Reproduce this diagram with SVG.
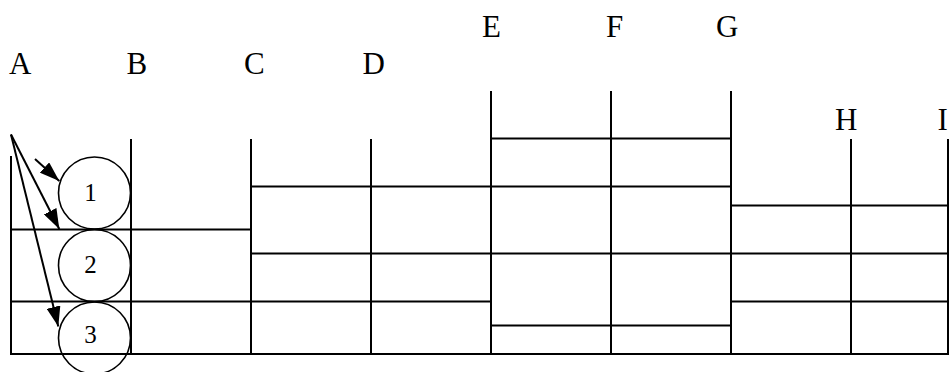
<svg xmlns="http://www.w3.org/2000/svg" width="950" height="372" viewBox="0 0 950 372">
<style>
.ln{stroke:#000;stroke-width:2;fill:none}
.ci{stroke:#000;stroke-width:1.6;fill:none}
.ar{stroke:#000;stroke-width:2;fill:none;marker-end:url(#ah)}
</style>
<defs>
<marker id="ah" viewBox="0 0 20 14" refX="20" refY="7" markerWidth="20" markerHeight="14" markerUnits="userSpaceOnUse" orient="auto">
<path d="M0,0 L20,7 L0,14 Z" fill="#000"/>
</marker>
</defs>
<rect width="950" height="372" fill="#fff"/>
<g id="grid">
<line class="ln" x1="11" y1="156" x2="11" y2="354"/>
<line class="ln" x1="131" y1="139" x2="131" y2="354"/>
<line class="ln" x1="251" y1="139" x2="251" y2="354"/>
<line class="ln" x1="371" y1="139" x2="371" y2="354"/>
<line class="ln" x1="491" y1="91" x2="491" y2="354"/>
<line class="ln" x1="611" y1="91" x2="611" y2="354"/>
<line class="ln" x1="731" y1="91" x2="731" y2="354"/>
<line class="ln" x1="851" y1="139" x2="851" y2="354"/>
<line class="ln" x1="948" y1="139" x2="948" y2="354"/>
<line class="ln" x1="10" y1="354" x2="949" y2="354"/>
<line class="ln" x1="11" y1="229.5" x2="251" y2="229.5"/>
<line class="ln" x1="11" y1="301.5" x2="491" y2="301.5"/>
<line class="ln" x1="731" y1="301.5" x2="948" y2="301.5"/>
<line class="ln" x1="251" y1="186.5" x2="731" y2="186.5"/>
<line class="ln" x1="251" y1="253.5" x2="948" y2="253.5"/>
<line class="ln" x1="491" y1="138.5" x2="731" y2="138.5"/>
<line class="ln" x1="491" y1="325.5" x2="731" y2="325.5"/>
<line class="ln" x1="731" y1="205.5" x2="948" y2="205.5"/>
</g>
<g id="labels" font-family="Liberation Serif, Times New Roman, serif" font-size="31" fill="#000">
<text x="9" y="74">A</text>
<text x="126.5" y="74">B</text>
<text x="244" y="74">C</text>
<text x="362.5" y="74">D</text>
<text x="482" y="36.7">E</text>
<text x="606" y="36.7">F</text>
<text x="716" y="36.7">G</text>
<text x="835" y="130">H</text>
<text x="937.5" y="130">I</text>
</g>
<g font-family="Liberation Serif, Times New Roman, serif" font-size="25" fill="#000" text-anchor="middle">
<g id="node1">
<circle class="ci" cx="94.5" cy="193" r="36"/>
<text x="90.5" y="200.7">1</text>
</g>
<g id="node2">
<circle class="ci" cx="94.5" cy="265.5" r="36"/>
<text x="90.5" y="272.7">2</text>
</g>
<g id="node3">
<circle class="ci" cx="94.5" cy="338" r="36"/>
<text x="90.5" y="343.3">3</text>
</g>
</g>
<g id="connectors">
<line class="ar" x1="35" y1="159" x2="59.3" y2="181"/>
<line class="ar" x1="11" y1="134.5" x2="59.3" y2="229"/>
<line class="ar" x1="11" y1="134.5" x2="58.3" y2="326.5"/>
</g>
</svg>
